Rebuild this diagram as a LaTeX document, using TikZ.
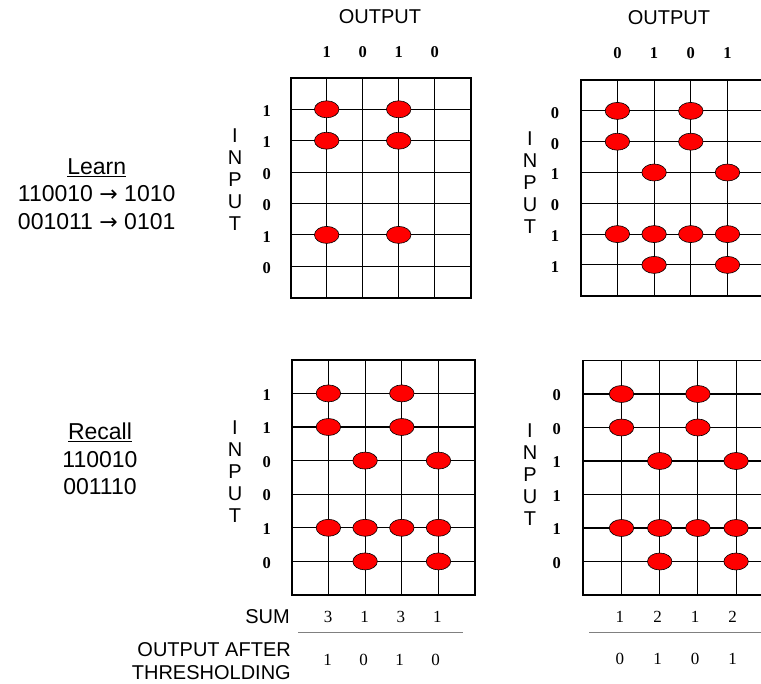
\documentclass[tikz,border=0pt]{standalone}
\usepackage{fontspec}
\setmainfont{Liberation Serif}
\setsansfont{Liberation Sans}
\newfontfamily\arrowfont{DejaVu Sans}
\usetikzlibrary{positioning}
\usetikzlibrary{shapes.geometric}
\newcommand{\maps}{{\arrowfont\fontsize{22}{22}\selectfont →}}
\tikzset{
cell/.style={line width=1.1pt},
frame/.style={line width=1.7pt},
weight/.style={ellipse, draw, fill=red, line width=0.6pt, minimum width=24.5pt, minimum height=17pt, inner sep=0pt},
bitlabel/.style={font=\fontsize{16.5}{16.5}\selectfont\bfseries, inner sep=0pt},
sumlabel/.style={font=\fontsize{17}{17}\selectfont, inner sep=0pt},
caption/.style={font=\sffamily\fontsize{20}{22}\selectfont, align=center, inner sep=0pt},
story/.style={font=\sffamily\fontsize{23}{27.3}\selectfont, align=center, inner sep=0pt},
rule/.style={draw=gray, line width=1pt}
}
\begin{document}
\begin{tikzpicture}[x=1pt, y=-1pt]
    \useasboundingbox (0,0) rectangle (761,684);

    \node[story] (learn) at (96.7,194) {\underline{Learn}\\110010 \maps{} 1010\\001011 \maps{} 0101};
    \node[story] (recall) at (100,459) {\underline{Recall}\\110010\\001110};

    % learning the first pair
    \begin{scope}[shift={(290.7,297.7)}, x=36pt, y=31.4pt]
        \draw[cell, step=1] (0,0) grid (5,7);
        \draw[frame] (0,0) rectangle (5,7);
        \foreach \c/\r in {1/1,1/2,1/5,3/1,3/2,3/5}
            \node[weight] (learn one \c-\r) at (\c,7-\r) {};
    \end{scope}

    % learning the second pair
    \begin{scope}[shift={(580.7,295.7)}, x=36.7pt, y=30.8pt]
        \draw[cell, step=1] (0,0) grid (5,7);
        \draw[frame] (0,0) rectangle (5,7);
        \foreach \c/\r in {1/1,1/2,1/5,3/1,3/2,3/5,2/3,2/5,2/6,4/3,4/5,4/6}
            \node[weight] (learn two \c-\r) at (\c,7-\r) {};
    \end{scope}

    % recall
    \begin{scope}[shift={(291.7,595)}, x=36.7pt, y=33.6pt]
        \draw[cell, step=1] (0,0) grid (5,7);
        \draw[frame] (0,0) rectangle (5,7);
        \foreach \c/\r in {1/1,1/2,1/5,3/1,3/2,3/5,2/3,2/5,2/6,4/3,4/5,4/6}
            \node[weight] (recall one \c-\r) at (\c,7-\r) {};
    \end{scope}

    \begin{scope}[shift={(583.3,595)}, x=38.2pt, y=33.5pt]
        \draw[cell, step=1] (0,0) grid (5,7);
        \draw[frame] (0,0) rectangle (5,7);
        \foreach \c/\r in {1/1,1/2,1/5,3/1,3/2,3/5,2/3,2/5,2/6,4/3,4/5,4/6}
            \node[weight] (recall two \c-\r) at (\c,7-\r) {};
    \end{scope}

    \node[caption] (output one) at (380,17) {OUTPUT};
    \node[caption] (output two) at (669,18) {OUTPUT};
    \foreach \d [count=\i] in {1,0,1,0}
        \node[bitlabel] (out one \i) at (290.7+36*\i,51.7) {\d};
    \foreach \d [count=\i] in {0,1,0,1}
        \node[bitlabel] (out two \i) at (580.7+36.7*\i,53) {\d};

    \node[caption] (input one) at (235,180) {I\\N\\P\\U\\T};
    \node[caption] (input two) at (530,183) {I\\N\\P\\U\\T};
    \node[caption] (input three) at (235,472) {I\\N\\P\\U\\T};
    \node[caption] (input four) at (530,475) {I\\N\\P\\U\\T};
    \foreach \d [count=\i] in {1,1,0,0,1,0}
        \node[bitlabel] (in one \i) at (266.7,79.7+31.4*\i) {\d};
    \foreach \d [count=\i] in {0,0,1,0,1,1}
        \node[bitlabel] (in two \i) at (555,82+30.8*\i) {\d};
    \foreach \d [count=\i] in {1,1,0,0,1,0}
        \node[bitlabel] (in three \i) at (266.7,361+33.6*\i) {\d};
    \foreach \d [count=\i] in {0,0,1,1,1,0}
        \node[bitlabel] (in four \i) at (556.7,361.7+33.5*\i) {\d};

    % sums and thresholds
    \node[caption, anchor=east] (sum) at (290,617) {SUM};
    \node[caption, anchor=east, align=right, font=\sffamily\fontsize{20}{23}\selectfont] (threshold) at (291,661.5) {OUTPUT AFTER\\THRESHOLDING};
    \foreach \d [count=\i] in {3,1,3,1}
        \node[sumlabel] (sum one \i) at (291.7+36.4*\i,617) {\d};
    \foreach \d [count=\i] in {1,0,1,0}
        \node[sumlabel] (thr one \i) at (291.7+36*\i,660) {\d};
    \foreach \d [count=\i] in {1,2,1,2}
        \node[sumlabel] (sum two \i) at (582.3+37.6*\i,617) {\d};
    \foreach \d [count=\i] in {0,1,0,1}
        \node[sumlabel] (thr two \i) at (582.3+37.6*\i,658.5) {\d};
    \draw[rule] (298,632.5) -- (462.7,632.5);
    \draw[rule] (589.3,632.7) -- (761,632.7);

\end{tikzpicture}
\end{document}
